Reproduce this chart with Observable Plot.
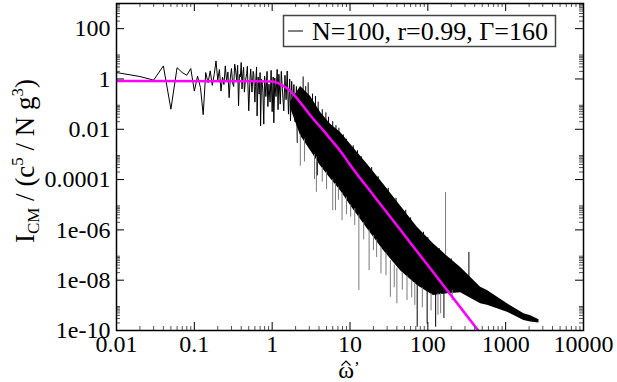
<!DOCTYPE html>
<html><head><meta charset="utf-8">
<script src="https://cdn.jsdelivr.net/npm/d3@7"></script>
<script src="https://cdn.jsdelivr.net/npm/@observablehq/plot@0.6"></script>
<style>body{margin:0;background:#fff} svg{display:block} svg text{font-family:'Liberation Serif','DejaVu Serif',serif;}</style>
</head><body><div id="chart"></div>
<script>
// ---- data ----
// low-frequency part of the spectrum (individual samples / local extremes)
const lowOmega = [0.01,0.02,0.03,0.04,0.05,0.06,0.07,0.08,0.09,0.10,0.11,0.12,0.13,0.14,0.15,0.16,0.17,0.18,0.19,0.20,0.21,0.22,0.23,0.24,0.25,0.26,0.27,0.28,0.29,0.30,0.31,0.32,0.33,0.34,0.35,0.36,0.37,0.38,0.39,0.40,0.41,0.42,0.43,0.44,0.45,0.47,0.48,0.50,0.52,0.53,0.55,0.57,0.58,0.60,0.61,0.63,0.64,0.66,0.68,0.70,0.71,0.73,0.75,0.76,0.78,0.80,0.82,0.83,0.86,0.88,0.91,0.94,0.97,1.0,1.03,1.05,1.08,1.12,1.16,1.19,1.22,1.27,1.31,1.36,1.41,1.46,1.51,1.56,1.62,1.68,1.72,1.78,1.84,1.9,1.97,2.05,2.1];
const lowI = [1.8,1.25,0.9,3.3,0.063,2.8,1.8,1.4,2.6,0.33,1.3,0.45,0.038,1.8,0.71,2.1,0.56,1.5,5.2,0.9,2.4,0.33,1.2,0.6,3.3,0.8,1.9,0.18,1.1,2.6,0.7,0.5,3.9,2.1,0.9,3.5,0.085,1.5,1.2,4.5,0.4,1.6,2.9,0.3,0.7,1.6,3.2,0.054,1.1,2.5,0.3,2.0,1.54,0.12,0.5,3.0,0.034,1.2,0.25,1.8,0.0136,1.0,0.6,0.3,0.016,1.3,0.4,0.2,2.0,0.08,0.62,0.12,2.2,0.05,1.2,0.018,1.1,0.2,2.4,0.06,1.54,0.1,2.0,0.3,0.054,1.4,0.15,2.07,0.04,1.0,0.022,0.8,0.05,0.6,0.02,0.5,0.003];
// dense part: upper and lower envelope of the black band
const bandOmega = [1.72,2.32,3.12,4.19,5.63,7.57,10.2,16.7,27,44.7,73.3,118,178,264,477,582,1052,1718,2095,2680];
const bandHigh = [0.12,0.5,0.2,0.046,0.016,0.0074,0.0025,4.1e-4,6.5e-5,8.9e-6,1.26e-6,2.8e-7,9e-8,3.2e-8,5.2e-9,3.9e-9,1.15e-9,4.6e-10,3.9e-10,2.66e-10];
const bandLow  = [0.07,0.0055,0.0014,3.5e-4,1.07e-4,3.6e-5,9.1e-6,1.1e-6,1.5e-7,2.4e-8,6.1e-9,2.45e-9,2.9e-9,3.2e-9,1.15e-9,1.0e-9,5.3e-10,2.5e-10,2.2e-10,2.0e-10];
// thin vertical excursions of the signal: omega, inner value, tip value
const peakOmega = [2.5,2.7,2.9,3.3,3.6,3.9,4.4,4.9,5.3,6.0,6.6,7.2,8.2,9.0,11,12.5,14,19,23,31,39,52,60,88,100,140,200,337,3.8,73,98,126,161];
const peakFrom  = [0.05,0.02,0.01,0.005,0.003,0.002,0.001,5e-4,4e-4,2e-4,1.5e-4,1e-4,5e-5,3e-5,1.5e-5,8e-6,5e-6,1.5e-6,6e-7,2e-7,8e-8,3e-8,2e-8,8e-9,6e-9,5e-9,6e-9,5e-9,5e-4,6e-9,4e-9,3e-9,3e-9];
const peakTo    = [1.2,0.5,0.7,0.25,0.2,0.12,0.06,0.045,0.03,0.02,0.014,0.011,0.006,0.004,0.0022,0.0014,8e-4,3e-4,1.3e-4,4.5e-5,1.8e-5,6e-6,3e-6,8e-7,5e-7,1.8e-7,7e-8,1.28e-7,1.4e-4,1.35e-10,1.8e-10,1.35e-10,3e-10];
const dipOmega = [2.3,2.6,3.5,3.7,4.4,5.0,6.0,6.5,7.1,7.9,9.0,10.2,11.5,13,15,17.6,20,22,25,29,33,37,40,47,54,62,68,85,110,135,146,206,169];
const dipFrom  = [0.006,0.004,0.001,8e-4,3e-4,2e-4,1e-4,7e-5,5e-5,3e-5,2e-5,1e-5,7e-6,4e-6,2e-6,1e-6,6e-7,4e-7,2e-7,1.2e-7,6e-8,4e-8,3e-8,2e-8,1.5e-8,1e-8,8e-9,5e-9,3e-9,3e-9,3e-9,4e-9,1e-7];
const dipTo    = [3.4e-4,5e-4,1e-4,3.1e-5,8e-5,4e-5,5.8e-6,5.8e-6,1.5e-5,2.3e-6,4e-6,3.2e-6,1.5e-6,3.9e-9,4e-7,2.4e-8,1.5e-7,8e-8,1.78e-8,1.5e-8,2.1e-9,5e-9,1.15e-9,4e-9,1.55e-9,2e-9,1e-9,8e-10,6e-10,4e-10,4.6e-10,1.55e-9,3.08e-5];
// fitted curve (magenta)
const fitOmega = [0.01,1.0,1.3,1.7,2.3,3.4,4.6,5.6,7.6,10,20,50,100,178,300,500];
const fitI = [0.83,0.8,0.6,0.34,0.115,0.025,0.0086,0.0041,0.0013,3.9e-4,2.4e-5,6.2e-7,3.9e-8,3.9e-9,4.8e-10,6.2e-11];
// axes
const xMajor = [0.01,0.1,1,10,100,1000,10000];
const xTickLabels = ["0.01","0.1","1","10","100","1000","10000"];
const yMajor = [1e-10,1e-8,1e-6,1e-4,1e-2,1,100];
const yTickLabels = ["1e-10","1e-08","1e-06","0.0001","0.01","1","100"];
const minorFactors = [2,3,4,5,6,7,8,9];
const legendLabel = "N=100, r=0.99, Γ=160";

// ---- build tables ----
const low = lowOmega.map((w,i)=>({w, I: lowI[i]}));
const band = bandOmega.map((w,i)=>({w, hi: bandHigh[i], lo: bandLow[i]}));
const peaks = peakOmega.map((w,i)=>({w, a: peakFrom[i], b: peakTo[i]}));
const dips = dipOmega.map((w,i)=>({w, a: dipFrom[i], b: dipTo[i]}));
const fit = fitOmega.map((w,i)=>({w, I: fitI[i]}));
const xMinor = xMajor.slice(0,-1).flatMap(m => minorFactors.map(k => k*m));
const yMinor = yMajor.flatMap(m => minorFactors.map(k => k*m)).filter(v => v < 1000);

const W = 617, H = 382, mL = 116, mR = 34, mT = 3, mB = 52;
const fw = W - mL - mR, fh = H - mT - mB;
const font = "'Liberation Serif', 'DejaVu Serif', serif";

const chart = Plot.plot({
  width: W, height: H,
  marginLeft: mL, marginRight: mR, marginTop: mT, marginBottom: mB,
  x: {type: "log", domain: [0.01, 10000]},
  y: {type: "log", domain: [1e-10, 1000]},
  style: {fontFamily: font, fontSize: "24px", color: "black", background: "white"},
  marks: [
    Plot.line(low, {x: "w", y: "I", stroke: "black", strokeWidth: 1, clip: true}),
    Plot.areaY(band, {x: "w", y1: "lo", y2: "hi", fill: "black", clip: true}),
    Plot.ruleX(dips, {x: "w", y1: "a", y2: "b", stroke: "#7a7a7a", strokeWidth: 1, clip: true}),
    Plot.ruleX(peaks, {x: "w", y1: "a", y2: "b", stroke: "black", strokeWidth: 1, clip: true}),
    Plot.line(fit, {x: "w", y: "I", stroke: "#ff00ff", strokeWidth: 2.5, curve: "monotone-x", clip: true}),
    // ticks (pointing inward, on all four sides)
    Plot.ruleX(xMajor, {stroke: "black", insetTop: fh - 8}),
    Plot.ruleX(xMajor, {stroke: "black", insetBottom: fh - 8}),
    Plot.ruleX(xMinor, {stroke: "#555", insetTop: fh - 4}),
    Plot.ruleX(xMinor, {stroke: "#555", insetBottom: fh - 4}),
    Plot.ruleY(yMajor, {stroke: "black", insetRight: fw - 8}),
    Plot.ruleY(yMajor, {stroke: "black", insetLeft: fw - 8}),
    Plot.ruleY(yMinor, {stroke: "#555", insetRight: fw - 4}),
    Plot.ruleY(yMinor, {stroke: "#555", insetLeft: fw - 4}),
    Plot.frame({stroke: "black", strokeWidth: 1.5}),
    Plot.axisX(xMajor, {tickSize: 0, tickPadding: 4, label: null, tickFormat: d => xTickLabels[xMajor.indexOf(d)], fontSize: 24, fontFamily: font}),
    Plot.axisY(yMajor, {tickSize: 0, tickPadding: 6, label: null, tickFormat: d => yTickLabels[yMajor.indexOf(d)], fontSize: 24, fontFamily: font})
  ]
});
document.getElementById("chart").appendChild(chart);

const svg = d3.select(chart);
// y axis title
const yt = svg.append("text")
  .attr("transform", "translate(34,161) rotate(-90)")
  .attr("text-anchor", "middle")
  .style("font-family", font).attr("font-size", 27).attr("fill", "black");
yt.append("tspan").text("I");
yt.append("tspan").attr("font-size", 17).attr("dy", 5).text("CM");
yt.append("tspan").attr("dy", -5).text(" / (c");
yt.append("tspan").attr("font-size", 17).attr("dy", -11).text("5");
yt.append("tspan").attr("dy", 11).text(" / N g");
yt.append("tspan").attr("font-size", 17).attr("dy", -11).text("3");
yt.append("tspan").attr("dy", 11).text(")");
// x axis title: omega with a hat (drawn as a small chevron) and a prime
const xt = svg.append("text").attr("x", 349).attr("y", 378).attr("text-anchor", "middle")
  .style("font-family", font).attr("font-size", 24).attr("fill", "black");
xt.append("tspan").text("ω");
xt.append("tspan").attr("dy", -5).attr("font-size", 17).text("\u2019");
svg.append("path").attr("d", "M341.5,365.5 L346,361 L350.5,365.5")
  .attr("fill", "none").attr("stroke", "black").attr("stroke-width", 1.2);
// legend
const lg = svg.append("g");
lg.append("rect").attr("x", 283.5).attr("y", 15.5).attr("width", 272).attr("height", 31)
  .attr("fill", "white").attr("stroke", "#444").attr("stroke-width", 1.5);
lg.append("line").attr("x1", 288).attr("x2", 303).attr("y1", 31).attr("y2", 31)
  .attr("stroke", "black").attr("stroke-width", 1);
lg.append("text").attr("x", 312).attr("y", 39.5).attr("text-anchor", "start")
  .style("font-family", font).attr("font-size", 26).attr("fill", "black")
  .text(legendLabel);
</script>
</body></html>
